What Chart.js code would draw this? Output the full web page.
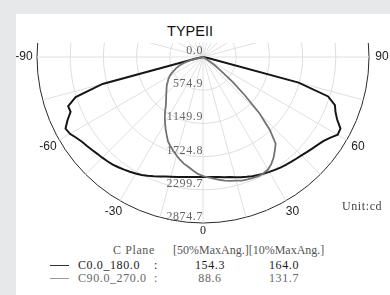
<!DOCTYPE html>
<html>
<head>
<meta charset="utf-8">
<script src="https://cdn.jsdelivr.net/npm/chart.js@4.4.1/dist/chart.umd.min.js"></script>
<style>
  body { margin: 0; width: 390px; height: 295px; overflow: hidden; position: relative; background: #e7e8ea; }
  #panel { position: absolute; left: 16px; top: 14px; width: 374px; height: 281px; background: #fff; }
  #title { position: absolute; left: 140px; width: 100px; top: 22.5px; line-height: 15px; text-align: center;
           font: 14.5px "Liberation Sans", Arial, sans-serif; color: #111; }
  #plot { position: absolute; left: 16px; top: 43px; width: 374px; height: 200px; overflow: hidden; }
  #plot canvas { position: absolute; left: 0; top: -173px; }
  .t { position: absolute; white-space: pre; font: 12px "Liberation Serif", serif; line-height: 13px; letter-spacing: 0.6px; }
  .ln { position: absolute; left: 50px; width: 19px; height: 0; border-top: 1px solid; }
</style>
</head>
<body>
<div id="panel"></div>
<div id="title">TYPEII</div>
<div id="plot"><canvas id="polar" width="374" height="374"></canvas></div>
<div class="t" style="left:342px; top:200px; color:#444;">Unit:cd</div>
<div id="legend"></div>
<script>
// gamma angles (deg) and intensity (cd)
const gammaAngles = [-90, -87.5, -85, -82.5, -80, -77.5, -75, -72.5, -70, -67.5, -65, -62.5, -60, -57.5, -55, -52.5,
  -50, -47.5, -45, -42.5, -40, -37.5, -35, -32.5, -30, -27.5, -25, -22.5, -20, -17.5, -15, -12.5, -10, -7.5, -5, -2.5,
  0, 2.5, 5, 7.5, 10, 12.5, 15, 17.5, 20, 22.5, 25, 27.5, 30, 32.5, 35, 37.5, 40, 42.5, 45, 47.5, 50, 52.5, 55, 57.5,
  60, 62.5, 65, 67.5, 70, 72.5, 75, 77.5, 80, 82.5, 85, 87.5, 90];

const c0_180 = [0, 0, 0, 0, 0, 139, 1801, 2312, 2485, 2482, 2589, 2684, 2660, 2603, 2559, 2532,
  2506, 2482, 2466, 2449, 2431, 2407, 2381, 2357, 2331, 2303, 2270, 2237, 2204, 2172, 2147, 2130, 2111, 2095, 2087, 2078,
  2078, 2078, 2087, 2095, 2113, 2130, 2156, 2182, 2208, 2234, 2256, 2277, 2298, 2319, 2338, 2355, 2372, 2390, 2411, 2438, 2468, 2502, 2542, 2606,
  2693, 2684, 2563, 2483, 2431, 2272, 1714, 104, 0, 0, 0, 0, 0];

const c90_270 = [0, 0, 0, 0, 0, 87, 242, 346, 433, 502, 554, 615, 667, 710, 745, 788,
  823, 857, 900, 944, 996, 1056, 1143, 1230, 1316, 1403, 1489, 1584, 1645, 1706, 1766, 1827, 1879, 1922, 1974, 2026,
  2061, 2087, 2113, 2144, 2173, 2199, 2217, 2243, 2256, 2268, 2277, 2268, 2251, 2199, 2130, 2043, 1957, 1714, 1385, 987, 675, 381, 242, 104,
  0, 0, 0, 0, 0, 0, 0, 0, 0, 0, 0, 0, 0];

const rMax = 2874.7;
const radialTicks = ['0.0', '574.9', '1149.9', '1724.8', '2299.7', '2874.7'];
const angleTicks = [-90, -60, -30, 0, 30, 60, 90];

const planes = ['C0.0_180.0', 'C90.0_270.0'];
const ang50 = [154.3, 88.6];
const ang10 = [164.0, 131.7];

// radar categories: full circle, 2.5 deg apart, 0 at the bottom going clockwise to -90
const labels = [];
for (let k = 0; k < 144; k++) {
  let g = -k * 2.5;
  if (g <= -180) g += 360;
  labels.push(g);
}
function toRadar(series) {
  return labels.map(g => {
    const i = gammaAngles.indexOf(g);
    return i >= 0 ? series[i] : null;
  });
}

const polarText = {
  id: 'polarText',
  beforeDatasetsDraw(chart) {
    const r = chart.scales.r;
    const ctx = chart.ctx;
    ctx.save();
    ctx.font = '12px "Liberation Serif"';
    ctx.letterSpacing = '0.6px';
    ctx.fillStyle = '#666';
    ctx.textAlign = 'right';
    ctx.textBaseline = 'alphabetic';
    radialTicks.forEach((t, i) => {
      const d = r.getDistanceFromCenterForValue(i * rMax / 5);
      ctx.fillText(t, r.xCenter, r.yCenter + d - 3);
    });
    ctx.letterSpacing = '0px';
    ctx.textAlign = 'center';
    ctx.textBaseline = 'middle';
    ctx.fillStyle = '#222';
    angleTicks.forEach(g => {
      const idx = labels.indexOf(g);
      const zero = g === 0;
      ctx.font = zero ? '12px "Liberation Serif"' : '12px "Liberation Sans"';
      const p = r.getPointPosition(idx, r.drawingArea + (zero ? 8 : 13));
      ctx.fillText(String(g), p.x, p.y);
    });
    ctx.restore();
  }
};

new Chart(document.getElementById('polar'), {
  type: 'radar',
  data: {
    labels: labels,
    datasets: [
      { label: planes[1], data: toRadar(c90_270), borderColor: '#737373', borderWidth: 1.8 },
      { label: planes[0], data: toRadar(c0_180), borderColor: '#161616', borderWidth: 2 }
    ]
  },
  options: {
    responsive: false,
    animation: false,
    devicePixelRatio: 1,
    layout: { padding: 21 },
    elements: {
      line: { fill: false, tension: 0, spanGaps: true },
      point: { radius: 0, hoverRadius: 0 }
    },
    datasets: { radar: { spanGaps: true, fill: false } },
    plugins: { legend: { display: false }, tooltip: { enabled: false } },
    scales: {
      r: {
        startAngle: 180,
        min: 0,
        max: rMax,
        ticks: { display: false, stepSize: rMax / 5 },
        pointLabels: { display: false },
        grid: {
          circular: true,
          color: c => (c.tick && c.tick.value >= rMax - 0.01) ? '#2a2a2a' : '#dedede',
          lineWidth: 1
        },
        angleLines: {
          color: '#e0e0e0',
          lineWidth: c => (labels[c.index] % 15 === 0 ? 1 : 0)
        }
      }
    }
  },
  plugins: [polarText]
});

// legend table under the plot
const legend = document.getElementById('legend');
let html = '<div class="t" style="left:113px; top:244px; color:#555;">C Plane</div>' +
  '<div class="t" style="left:173px; top:244px; color:#555; letter-spacing:0;">[50%MaxAng.][10%MaxAng.]</div>';
const rowTop = [258.5, 271.5];
const rowColor = ['#1a1a1a', '#666'];
const lineColor = ['#333', '#999'];
planes.forEach((name, i) => {
  const top = rowTop[i];
  html += '<div class="ln" style="top:' + (top + 6) + 'px; border-color:' + lineColor[i] + ';"></div>' +
    '<div class="t" style="left:78px; top:' + top + 'px; color:' + rowColor[i] + ';">' + name + '</div>' +
    '<div class="t" style="left:154px; top:' + top + 'px; color:' + rowColor[i] + ';">:</div>' +
    '<div class="t" style="left:180px; width:60px; text-align:center; top:' + top + 'px; color:' + rowColor[i] + ';">' + ang50[i].toFixed(1) + '</div>' +
    '<div class="t" style="left:254px; width:60px; text-align:center; top:' + top + 'px; color:' + rowColor[i] + ';">' + ang10[i].toFixed(1) + '</div>';
});
legend.innerHTML = html;
</script>
</body>
</html>
